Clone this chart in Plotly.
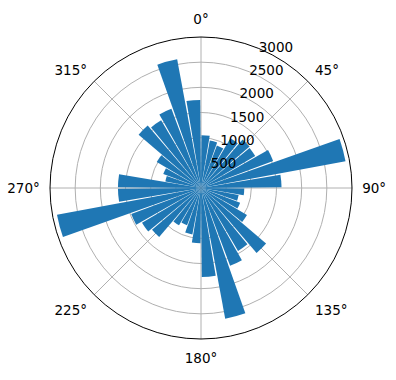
import plotly.graph_objects as go

# bin centres (degrees, clockwise from north)
theta_deg = [5, 15, 25, 35, 45, 55, 65, 75, 85,
             95, 105, 115, 125, 135, 145, 155, 165, 175,
             185, 195, 205, 215, 225, 235, 245, 255, 265,
             275, 285, 295, 305, 315, 325, 335, 345, 355]
counts = [1050, 960, 900, 1150, 1270, 1250, 1530, 2920, 1600,
          860, 760, 830, 1060, 1700, 1450, 1650, 2640, 1770,
          1100, 940, 790, 860, 1280, 1360, 1480, 2910, 1650,
          1650, 720, 800, 1020, 1630, 1560, 1680, 2600, 1750]

angle_ticks = [0, 45, 90, 135, 180, 225, 270, 315]
angle_labels = ["0°", "45°", "90°", "135°", "180°", "225°", "270°", "315°"]
radial_ticks = [500, 1000, 1500, 2000, 2500, 3000]
radial_labels = ["500", "1000", "1500", "2000", "2500", "3000"]
radial_label_angle = 22.5

fig = go.Figure()
fig.add_trace(go.Barpolar(
    r=counts, theta=theta_deg, width=[9] * len(counts),
    marker=dict(color="#1f77b4", line=dict(width=0)),
))
fig.add_trace(go.Scatterpolar(
    r=radial_ticks, theta=[radial_label_angle] * len(radial_ticks),
    text=radial_labels, mode="text", textposition="middle right",
    textfont=dict(family="DejaVu Sans", size=13.5, color="black"),
    cliponaxis=False, hoverinfo="skip",
))

W, H = 396, 380
cx, cy, R = 201, 188, 151
fig.update_layout(
    width=W, height=H,
    margin=dict(l=0, r=0, t=0, b=0),
    paper_bgcolor="white",
    showlegend=False,
    font=dict(family="DejaVu Sans", size=13.5, color="black"),
    polar=dict(
        domain=dict(x=[(cx - R) / W, (cx + R) / W],
                    y=[(H - cy - R) / H, (H - cy + R) / H]),
        bgcolor="white",
        bargap=0,
        angularaxis=dict(
            rotation=90, direction="clockwise",
            tickmode="array", tickvals=angle_ticks, ticktext=angle_labels,
            showgrid=True, gridcolor="#b0b0b0", gridwidth=0.8,
            showline=True, linecolor="black", linewidth=1,
            ticks="outside", ticklen=7, tickcolor="rgba(0,0,0,0)",
            tickfont=dict(size=13.5),
        ),
        radialaxis=dict(
            range=[0, 3000], angle=67.5,
            tickmode="array", tickvals=radial_ticks,
            showticklabels=False,
            showgrid=True, gridcolor="#b0b0b0", gridwidth=0.8,
            showline=False, ticks="",
        ),
    ),
)
fig.write_html("out.html")
